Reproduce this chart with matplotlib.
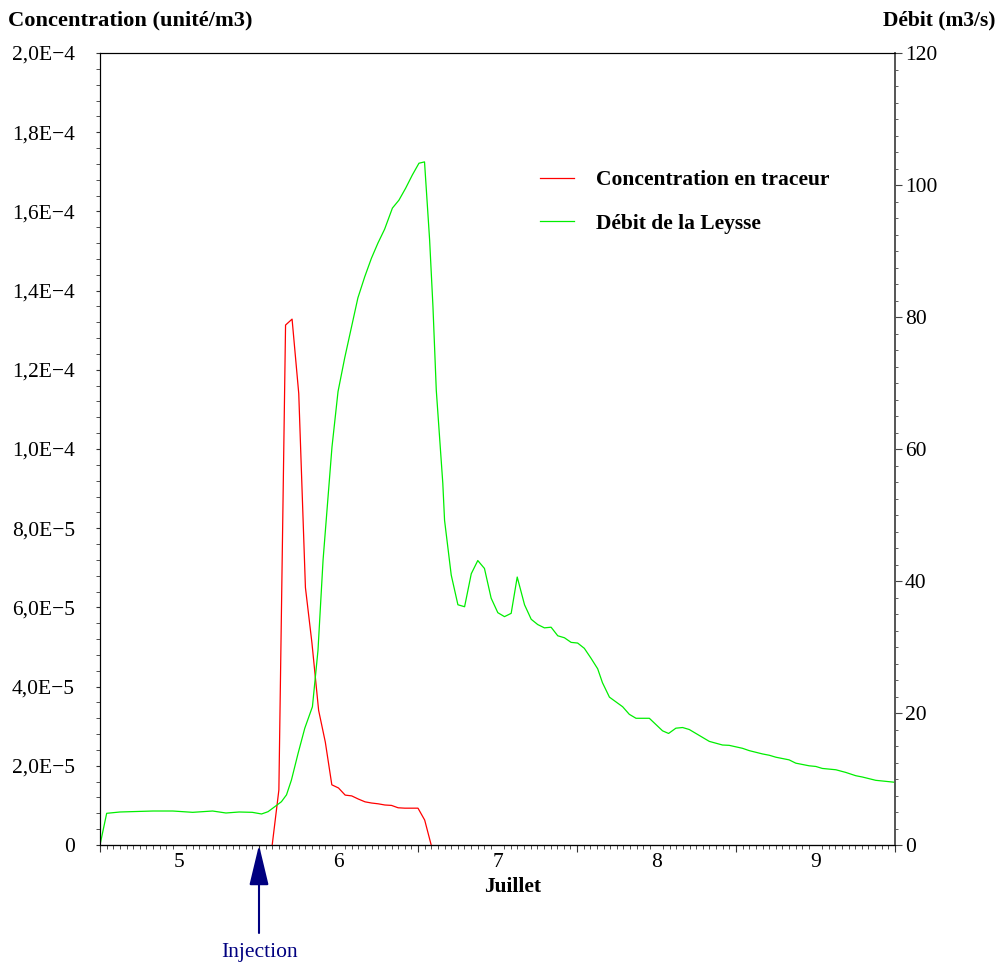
import matplotlib
matplotlib.use("Agg")
import matplotlib.pyplot as plt
from matplotlib.ticker import MultipleLocator, FixedLocator, FixedFormatter

plt.rcParams['font.family'] = ['Liberation Serif', 'DejaVu Serif']

# --- data (jour de juillet) ---
conc_days = [5.583, 5.625, 5.667, 5.708, 5.750, 5.792, 5.833, 5.875, 5.917, 5.958,
             6.000, 6.042, 6.083, 6.125, 6.167, 6.208, 6.250, 6.292, 6.333, 6.375,
             6.417, 6.458, 6.500, 6.542, 6.583]
conc_vals = [0.0, 1.39e-5, 1.313e-4, 1.328e-4, 1.14e-4, 6.5e-5, 5.1e-5, 3.4e-5, 2.6e-5, 1.52e-5,
             1.44e-5, 1.26e-5, 1.24e-5, 1.16e-5, 1.09e-5, 1.06e-5, 1.04e-5, 1.01e-5, 1.00e-5, 0.94e-5,
             0.93e-5, 0.93e-5, 0.93e-5, 0.63e-5, 0.0]

debit_days = [4.500, 4.542, 4.625, 4.833, 4.958, 5.083, 5.208, 5.292, 5.375, 5.458,
              5.516, 5.557, 5.599, 5.641, 5.673, 5.704, 5.746, 5.788, 5.836, 5.871,
              5.903, 5.959, 5.997, 6.039, 6.122, 6.165, 6.207, 6.248, 6.290, 6.339,
              6.380, 6.422, 6.464, 6.506, 6.541, 6.573, 6.594, 6.615, 6.656, 6.667,
              6.709, 6.751, 6.793, 6.835, 6.876, 6.918, 6.960, 7.002, 7.044, 7.086,
              7.124, 7.170, 7.212, 7.253, 7.295, 7.337, 7.379, 7.421, 7.463, 7.504,
              7.546, 7.588, 7.630, 7.660, 7.704, 7.787, 7.829, 7.871, 7.955, 8.038,
              8.076, 8.122, 8.164, 8.206, 8.332, 8.415, 8.457, 8.541, 8.583, 8.666,
              8.709, 8.751, 8.834, 8.876, 8.960, 9.002, 9.043, 9.128, 9.190, 9.253,
              9.295, 9.379, 9.420, 9.500]
debit_vals = [0.0, 4.8, 5.0, 5.15, 5.15, 4.95, 5.15, 4.85, 5.0, 4.95,
              4.7, 5.05, 5.8, 6.56, 7.6, 9.85, 13.9, 17.7, 20.95, 29.5,
              43.2, 60.3, 68.7, 73.8, 82.9, 86.1, 88.9, 91.2, 93.3, 96.5,
              97.7, 99.5, 101.5, 103.3, 103.5, 91.7, 81.6, 68.9, 54.8, 49.2,
              40.9, 36.4, 36.1, 41.1, 43.1, 41.9, 37.4, 35.2, 34.6, 35.1,
              40.6, 36.4, 34.2, 33.4, 32.9, 33.0, 31.7, 31.4, 30.7, 30.6,
              29.8, 28.3, 26.7, 24.6, 22.4, 20.95, 19.8, 19.2, 19.2, 17.3,
              16.9, 17.7, 17.8, 17.5, 15.7, 15.15, 15.1, 14.65, 14.3, 13.8,
              13.6, 13.3, 12.9, 12.4, 12.0, 11.9, 11.6, 11.4, 11.0, 10.5,
              10.3, 9.8, 9.7, 9.5]

day_labels = ['5', '6', '7', '8', '9']
day_ticks = [5, 6, 7, 8, 9]
conc_ticks = [0, 2e-5, 4e-5, 6e-5, 8e-5, 1e-4, 1.2e-4, 1.4e-4, 1.6e-4, 1.8e-4, 2e-4]
conc_labels = ['0', '2,0E\u22125', '4,0E\u22125', '6,0E\u22125', '8,0E\u22125', '1,0E\u22124',
               '1,2E\u22124', '1,4E\u22124', '1,6E\u22124', '1,8E\u22124', '2,0E\u22124']
injection_day = 5.5

W, H = 1004, 967
fig = plt.figure(figsize=(W / 100, H / 100), dpi=100)
ax = fig.add_axes([100 / W, 1 - 845 / H, 795 / W, 792 / H])
ax2 = ax.twinx()

l1, = ax.plot(conc_days, conc_vals, color='#ff0000', lw=0.9, label='Concentration en traceur')
l2, = ax2.plot(debit_days, debit_vals, color='#00ee00', lw=0.9, label='Débit de la Leysse')

ax.set_xlim(4.5, 9.5)
ax.set_ylim(0, 2e-4)
ax2.set_ylim(0, 120)

# x axis: labels at day centres, long ticks at midnights, hourly minor ticks
ax.xaxis.set_major_locator(FixedLocator(day_ticks))
ax.xaxis.set_major_formatter(FixedFormatter(day_labels))
ax.xaxis.set_minor_locator(MultipleLocator(1 / 24))
ax.tick_params(axis='x', which='major', length=0, pad=6, labelsize=15.5)
ax.tick_params(axis='x', which='minor', length=3, color='#333333')
sec = ax.secondary_xaxis('bottom')
sec.set_xticks([4.5, 5.5, 6.5, 7.5, 8.5, 9.5])
sec.set_xticklabels([])
sec.tick_params(length=5, color='#333333')

ax.yaxis.set_major_locator(FixedLocator(conc_ticks))
ax.yaxis.set_major_formatter(FixedFormatter(conc_labels))
ax.yaxis.set_minor_locator(MultipleLocator(4e-6))
ax.tick_params(axis='y', which='both', length=3, color='#333333', labelsize=15.5, pad=15)

ax2.yaxis.set_major_locator(MultipleLocator(20))
ax2.yaxis.set_minor_locator(MultipleLocator(2.5))
ax2.tick_params(axis='y', which='major', length=5, color='#444444', labelsize=15.5, pad=2)
ax2.tick_params(axis='y', which='minor', length=2.5, color='#444444')

for a in (ax, ax2):
    a.spines['top'].set_color('black')
    a.spines['left'].set_color('black')
    a.spines['bottom'].set_color('black')
    a.spines['right'].set_color('#555555')
    a.spines['right'].set_linewidth(1.2)

fig.text(8 / W, 1 - 20 / H, 'Concentration (unité/m3)', fontsize=16.2, fontweight='bold',
         ha='left', va='center')
fig.text(996 / W, 1 - 20 / H, 'Débit (m3/s)', fontsize=15.5, fontweight='bold',
         ha='right', va='center')
fig.text(513 / W, 1 - 887 / H, 'Juillet', fontsize=15.5, fontweight='bold',
         ha='center', va='center')

# injection arrow
ax.annotate('', xy=(injection_day, 0), xytext=(injection_day, -88 / 792 * 2e-4),
            annotation_clip=False,
            arrowprops=dict(arrowstyle='-|>,head_length=2.5,head_width=0.6',
                            mutation_scale=10, color='#000080', lw=1.5,
                            shrinkA=0, shrinkB=0))
ax.text(injection_day, -108 / 792 * 2e-4, 'Injection', color='#000080', fontsize=15.5,
        ha='center', va='center', clip_on=False)

leg = ax2.legend(handles=[l1, l2], loc='upper left', bbox_to_anchor=(540 / W, 1 - 170 / H),
                 bbox_transform=fig.transFigure, frameon=False, borderpad=0, borderaxespad=0,
                 handlelength=1.6, handletextpad=1.0, labelspacing=1.1,
                 prop={'size': 15.5, 'weight': 'bold'})

fig.savefig('out.png', dpi=100)
